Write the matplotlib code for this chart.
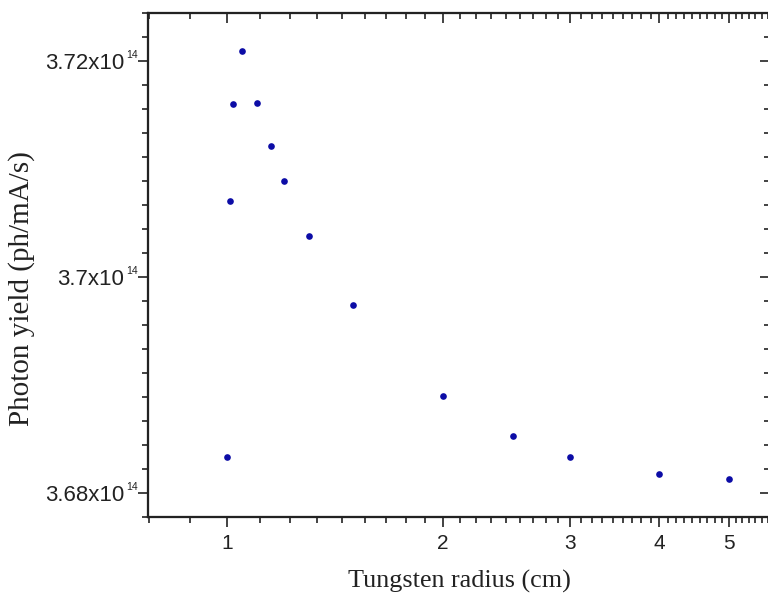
import numpy as np
import matplotlib
matplotlib.use("Agg")
import matplotlib.pyplot as plt
from matplotlib.ticker import FixedLocator, FixedFormatter, NullFormatter

# data
radius_cm = [1.0, 1.01, 1.02, 1.05, 1.1, 1.15, 1.2, 1.3, 1.5, 2.0, 2.5, 3.0, 4.0, 5.0]
photon_yield = [3.6833e14, 3.7070e14, 3.7160e14, 3.7209e14, 3.7161e14, 3.7121e14,
                3.7089e14, 3.7038e14, 3.6974e14, 3.6890e14, 3.6853e14, 3.6833e14,
                3.6818e14, 3.6813e14]

x_major = [1, 2, 3, 4, 5]
x_labels = ["1", "2", "3", "4", "5"]
y_major = [3.68e14, 3.70e14, 3.72e14]
y_labels = ["3.68x10", "3.7x10", "3.72x10"]
y_exponent = "14"

plt.rcParams['font.family'] = ['Liberation Sans', 'DejaVu Sans']

xlim = (0.776, 5.705)
ystep = 0.02e14 / 9
ylim = (3.68e14 - ystep, 3.72e14 + 2 * ystep)

# Origin style minor ticks: 8 evenly spaced ticks between majors
x_minor = [n + k / 9 for n in range(0, 6) for k in range(1, 9)]
x_minor = [v for v in x_minor if xlim[0] <= v <= xlim[1]]
y_minor = [3.66e14 + k * ystep for k in range(0, 60)]
y_minor = [v for v in y_minor if ylim[0] - 1e9 <= v <= ylim[1] + 1e9]

ink = '#222222'

fig = plt.figure(figsize=(7.68, 6), dpi=100)
ax = fig.add_axes([148 / 768, 83 / 600, 622 / 768, 504 / 600])

ax.plot(radius_cm, photon_yield, linestyle='none', marker='o', markersize=4.8,
        color='#0c0ca6', markeredgewidth=0)

ax.set_xscale('log')
ax.set_xlim(*xlim)
ax.set_ylim(*ylim)

ax.xaxis.set_major_locator(FixedLocator(x_major))
ax.xaxis.set_major_formatter(FixedFormatter(x_labels))
ax.xaxis.set_minor_locator(FixedLocator(x_minor))
ax.xaxis.set_minor_formatter(NullFormatter())
ax.yaxis.set_major_locator(FixedLocator(y_major))
ax.yaxis.set_major_formatter(FixedFormatter(y_labels))
ax.yaxis.set_minor_locator(FixedLocator(y_minor))

ax.tick_params(which='both', direction='out', width=1.2, colors=ink,
               top=False, right=False)
ax.tick_params(which='major', length=7.5)
ax.tick_params(which='minor', length=4)
ax.tick_params(axis='x', pad=5, labelsize=15)
ax.tick_params(axis='y', pad=9.5, labelsize=16)

# small exponent next to each y tick label
for yv in y_major:
    ax.annotate(y_exponent, xy=(0, yv), xycoords=('axes fraction', 'data'),
                xytext=(-16, 4.5), textcoords='offset points',
                fontsize=7.5, color=ink, ha='left', va='center')

# opposite axes with inward ticks
axt = ax.twiny()
axt.set_xscale('log')
axt.set_xlim(*xlim)
axt.xaxis.set_major_locator(FixedLocator(x_major))
axt.xaxis.set_minor_locator(FixedLocator(x_minor))
axt.xaxis.set_major_formatter(NullFormatter())
axt.xaxis.set_minor_formatter(NullFormatter())
axt.tick_params(axis='x', which='both', direction='in', width=1.2, colors=ink)
axt.tick_params(axis='x', which='major', length=7.5)
axt.tick_params(axis='x', which='minor', length=4)

axr = ax.twinx()
axr.set_ylim(*ylim)
axr.yaxis.set_major_locator(FixedLocator(y_major))
axr.yaxis.set_minor_locator(FixedLocator(y_minor))
axr.yaxis.set_major_formatter(NullFormatter())
axr.tick_params(axis='y', which='both', direction='in', width=1.2, colors=ink)
axr.tick_params(axis='y', which='major', length=7.5)
axr.tick_params(axis='y', which='minor', length=4)

for a in (ax, axt, axr):
    for s in a.spines.values():
        s.set_linewidth(1.5)
        s.set_color(ink)

ax.set_xlabel('Tungsten radius (cm)', fontsize=18.8, family='Liberation Serif',
              color=ink, labelpad=12)
ax.set_ylabel('Photon yield (ph/mA/s)', fontsize=21, family='Liberation Serif',
              color=ink)
ax.yaxis.set_label_coords(-0.182, 0.454)

fig.savefig('out.png', dpi=100)
